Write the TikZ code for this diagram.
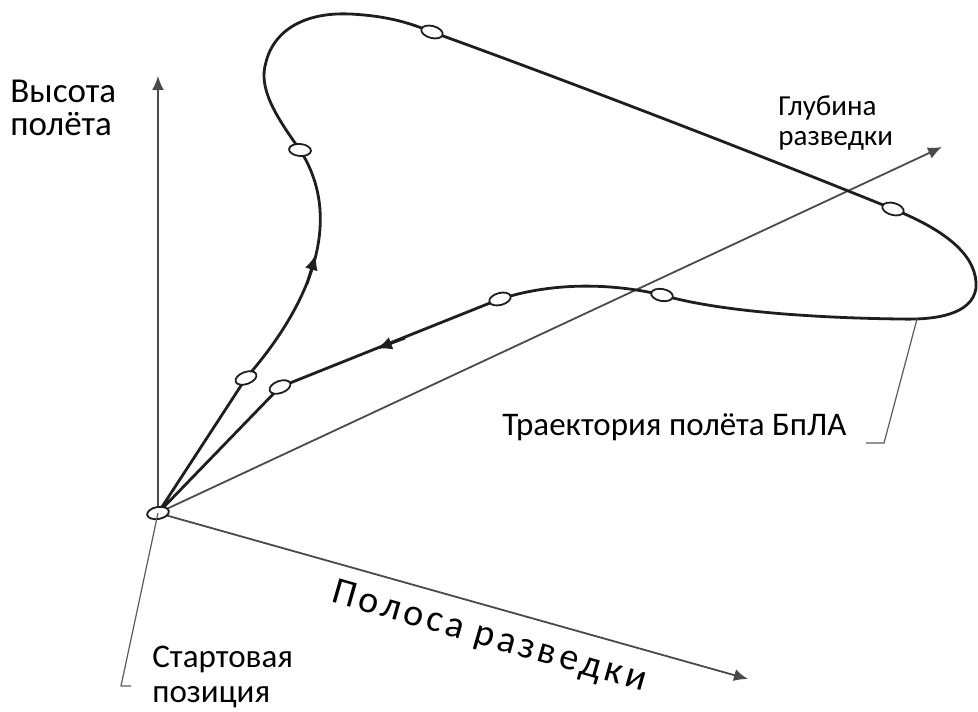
\documentclass[tikz,border=0pt]{standalone}
\usepackage{fontspec}
\setmainfont{Carlito}
\usepackage{tikz}
\usetikzlibrary{arrows.meta,shapes.geometric}
\definecolor{Traza}{HTML}{1E1E1E}
\definecolor{Eje}{HTML}{4A4A4A}
\definecolor{Guia}{HTML}{5A5A5A}

\begin{document}
\begin{tikzpicture}[
  x=0.5pt,y=-0.5pt,
  every node/.style={font=\fontsize{16.5}{17.5}\selectfont},
  axisline/.style={line width=0.9pt,draw=Eje,-{Latex[length=7pt,width=6pt]}},
  trail/.style={line width=1.4pt,draw=Traza},
  waypt/.style={ellipse,draw=Traza,line width=0.9pt,fill=white,
    minimum width=11pt,minimum height=6pt,inner sep=0pt},
  leader/.style={line width=0.6pt,draw=Guia},
  flow/.style={-{Latex[length=8pt,width=6.5pt]},line width=1.4pt,Traza}
]
  \useasboundingbox (0,0) rectangle (978,711);

  \coordinate (o) at (158,513);
  \coordinate (up) at (158,76);
  \coordinate (depth) at (942,147);
  \coordinate (strip) at (748,679);
  \draw[axisline] (o) -- (up);
  \draw[axisline] (o) -- (depth);
  \draw[axisline] (o) -- (strip);

  % waypoints of the flight
  \coordinate (w1) at (246,378);
  \coordinate (w2) at (300,150);
  \coordinate (w3) at (432,32);
  \coordinate (w4) at (893,209);
  \coordinate (w5) at (662,295);
  \coordinate (w6) at (500,299);
  \coordinate (w7) at (280,387);
  \coordinate (tip) at (917,319);

  \draw[trail] (o) -- (w1) .. controls (310,305) and (345,220) .. (w2)
    .. controls (275,115) and (258,88) .. (266,62)
    .. controls (274,30) and (305,12) .. (350,14)
    .. controls (390,16) and (412,24) .. (w3)
    .. controls (560,78) and (760,155) .. (w4)
    .. controls (950,232) and (978,258) .. (976,288)
    .. controls (972,315) and (935,320) .. (900,319)
    .. controls (820,318) and (720,312) .. (w5)
    .. controls (620,285) and (560,280) .. (w6)
    -- (w7) -- (o);

  \coordinate (f1a) at (307,284);
  \coordinate (f1b) at (316,254);
  \coordinate (f2a) at (405,338);
  \coordinate (f2b) at (376,349);
  \draw[flow] (f1a) -- (f1b);
  \draw[flow] (f2a) -- (f2b);

  \node[waypt,rotate=10] (n0) at (o) {};
  \node[waypt,rotate=20] (n1) at (w1) {};
  \node[waypt,rotate=-5] (n2) at (w2) {};
  \node[waypt,rotate=-15] (n3) at (w3) {};
  \node[waypt,rotate=-15] (n4) at (w4) {};
  \node[waypt,rotate=-10] (n5) at (w5) {};
  \node[waypt,rotate=15] (n6) at (w6) {};
  \node[waypt,rotate=20] (n7) at (w7) {};

  \coordinate (sbend) at (121,686);
  \coordinate (send) at (131,686);
  \draw[leader] (o) -- (sbend) -- (send);
  \coordinate (tbend) at (884,443);
  \coordinate (tend) at (866,443);
  \draw[leader] (tip) -- (tbend) -- (tend);

  \node[anchor=west,align=left,inner sep=0pt,
    font=\fontsize{17.5}{16.5}\selectfont] (hlabel) at (10,108) {Высота\\полёта};
  \node[anchor=west,align=left,fill=white,inner sep=4pt,
    font=\fontsize{14.5}{15}\selectfont] (dlabel) at (770,123) {Глубина\\разведки};
  \node[anchor=base west,inner sep=0pt] (tlabel) at (502,435) {Траектория полёта БпЛА};
  \node[anchor=west,align=left,inner sep=0pt] (slabel) at (152,677) {Стартовая\\позиция};
  \node[rotate=-16,anchor=north west,inner sep=0pt,
    font=\fontsize{19}{21}\selectfont\addfontfeature{LetterSpace=10}] (wlabel)
    at (337,578) {Полоса разведки};
\end{tikzpicture}
\end{document}
